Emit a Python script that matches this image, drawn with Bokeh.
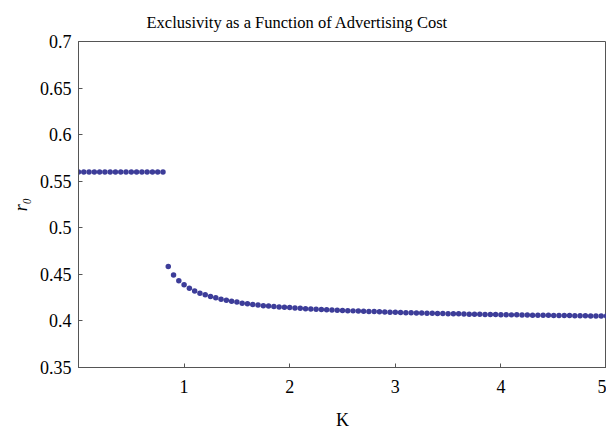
from bokeh.plotting import figure
from bokeh.models import Range1d, FixedTicker
from bokeh.embed import file_html
from bokeh.resources import INLINE

# ---- data ----
k_flat = [0.0, 0.05, 0.1, 0.15, 0.2, 0.25, 0.3, 0.35, 0.4, 0.45, 0.5, 0.55,
          0.6, 0.65, 0.7, 0.75, 0.8]
r_flat = [0.56] * len(k_flat)

k_curve = [0.85, 0.9, 0.95, 1.0, 1.05, 1.1, 1.15, 1.2, 1.25, 1.3, 1.35, 1.4,
           1.45, 1.5, 1.55, 1.6, 1.65, 1.7, 1.75, 1.8, 1.85, 1.9, 1.95, 2.0,
           2.05, 2.1, 2.15, 2.2, 2.25, 2.3, 2.35, 2.4, 2.45, 2.5, 2.55, 2.6,
           2.65, 2.7, 2.75, 2.8, 2.85, 2.9, 2.95, 3.0, 3.05, 3.1, 3.15, 3.2,
           3.25, 3.3, 3.35, 3.4, 3.45, 3.5, 3.55, 3.6, 3.65, 3.7, 3.75, 3.8,
           3.85, 3.9, 3.95, 4.0, 4.05, 4.1, 4.15, 4.2, 4.25, 4.3, 4.35, 4.4,
           4.45, 4.5, 4.55, 4.6, 4.65, 4.7, 4.75, 4.8, 4.85, 4.9, 4.95, 5.0]
r_curve = [0.4584, 0.4492, 0.4431, 0.4388, 0.4352, 0.4320, 0.4298, 0.4280,
           0.4262, 0.4248, 0.4234, 0.4223, 0.4212, 0.4202, 0.4191, 0.4184,
           0.4176, 0.4170, 0.4163, 0.4159, 0.4155, 0.4150, 0.4146, 0.4143,
           0.4139, 0.4135, 0.4132, 0.4129, 0.4126, 0.4123, 0.4120, 0.4117,
           0.4115, 0.4112, 0.4110, 0.4108, 0.4106, 0.4104, 0.4102, 0.4100,
           0.4098, 0.4096, 0.4094, 0.4092, 0.4091, 0.4089, 0.4088, 0.4086,
           0.4085, 0.4083, 0.4082, 0.4081, 0.4079, 0.4078, 0.4077, 0.4076,
           0.4075, 0.4073, 0.4072, 0.4071, 0.4070, 0.4069, 0.4068, 0.4067,
           0.4066, 0.4065, 0.4065, 0.4064, 0.4063, 0.4062, 0.4061, 0.4060,
           0.4060, 0.4059, 0.4058, 0.4057, 0.4057, 0.4056, 0.4055, 0.4055,
           0.4054, 0.4053, 0.4053, 0.4052]

x_ticks = [1, 2, 3, 4, 5]
x_tick_labels = ["1", "2", "3", "4", "5"]
y_ticks = [0.35, 0.4, 0.45, 0.5, 0.55, 0.6, 0.65, 0.7]
y_tick_labels = ["0.35", "0.4", "0.45", "0.5", "0.55", "0.6", "0.65", "0.7"]

title_text = "Exclusivity as a Function of Advertising Cost"
x_label = "K"
y_label = "r\u2080"

# ---- figure ----
FONT = "Liberation Serif"
AXIS_COLOR = "#555555"
DOT_COLOR = "#3d3d99"

p = figure(width=606, height=433, output_backend="svg", toolbar_location=None,
           x_range=Range1d(0, 5), y_range=Range1d(0.35, 0.7),
           min_border_left=78, min_border_right=0, min_border_top=41,
           min_border_bottom=66)

p.title.text = title_text
p.title.text_font = FONT
p.title.text_font_size = "16.5px"
p.title.text_font_style = "normal"
p.title.align = "left"
p.title.offset = 68
p.title.standoff = 19
p.title.text_color = "black"

p.background_fill_color = "white"
p.border_fill_color = "white"
p.outline_line_color = AXIS_COLOR
p.outline_line_width = 1
p.grid.visible = False

p.scatter(k_flat, r_flat, size=5.5, color=DOT_COLOR, line_color=None)
p.scatter(k_curve, r_curve, size=5.5, color=DOT_COLOR, line_color=None)

for ax in (p.xaxis[0], p.yaxis[0]):
    ax.axis_line_color = AXIS_COLOR
    ax.major_tick_line_color = AXIS_COLOR
    ax.major_tick_in = 4
    ax.major_tick_out = 0
    ax.minor_tick_line_color = None
    ax.major_label_text_font = FONT
    ax.major_label_text_font_size = "18px"
    ax.major_label_text_color = "black"
    ax.axis_label_text_font = FONT
    ax.axis_label_text_font_size = "18px"
    ax.axis_label_text_color = "black"

p.xaxis.ticker = FixedTicker(ticks=x_ticks)
p.xaxis.major_label_overrides = dict(zip(x_ticks, x_tick_labels))
p.xaxis.major_label_standoff = 12
p.xaxis.axis_label = x_label
p.xaxis.axis_label_standoff = 14
p.xaxis.axis_label_text_font_style = "normal"

p.yaxis.ticker = FixedTicker(ticks=y_ticks)
p.yaxis.major_label_overrides = dict(zip(y_ticks, y_tick_labels))
p.yaxis.major_label_standoff = 7
p.yaxis.axis_label = y_label
p.yaxis.axis_label_standoff = 6
p.yaxis.axis_label_text_font_style = "italic"

open("out.html", "w").write(file_html(p, INLINE))
